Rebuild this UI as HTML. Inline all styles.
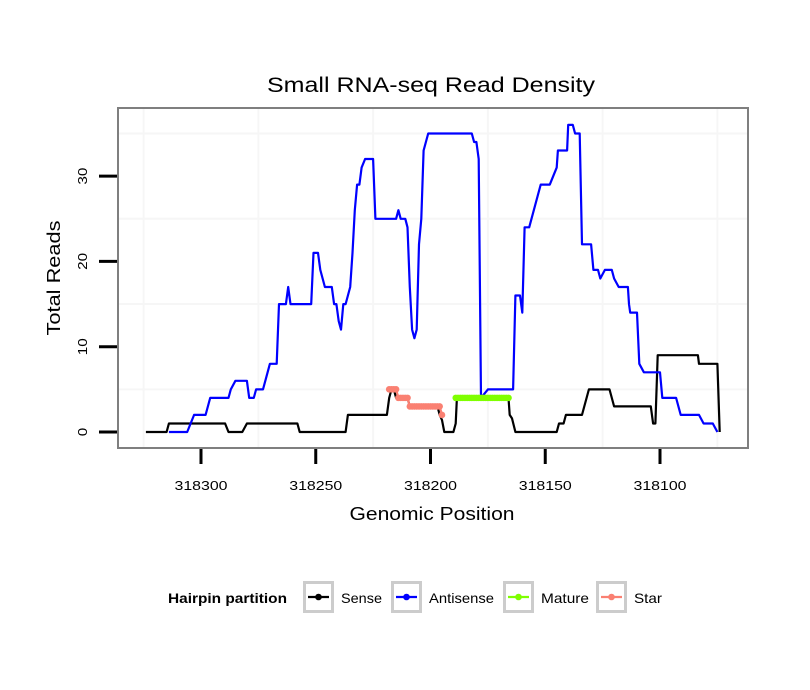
<!DOCTYPE html>
<html><head><meta charset="utf-8"><style>
html,body{margin:0;padding:0;background:#fff}
svg{display:block;font-family:"Liberation Sans",sans-serif}
</style></head><body>
<svg id="chart" width="810" height="690" viewBox="0 0 810 690">
<text x="431" y="92" text-anchor="middle" font-size="21" textLength="328" lengthAdjust="spacingAndGlyphs">Small RNA-seq Read Density</text>
<rect x="118" y="108" width="630" height="340" fill="#fff"/>
<g id="grid"></g>
<g id="series"></g>
<rect x="118" y="108" width="630" height="340" fill="none" stroke="#7f7f7f" stroke-width="2"/>
<g id="axes"></g>
<text x="432" y="520" text-anchor="middle" font-size="18" textLength="165" lengthAdjust="spacingAndGlyphs">Genomic Position</text>
<text transform="translate(60,278) rotate(-90)" text-anchor="middle" font-size="18" textLength="115" lengthAdjust="spacingAndGlyphs">Total Reads</text>
<g>
<text x="168" y="603" font-size="14" font-weight="bold" textLength="119" lengthAdjust="spacingAndGlyphs">Hairpin partition</text>
<g id="legend"></g>
</g>
</svg>
<script>
const xTicks = [318300, 318250, 318200, 318150, 318100];
const xTickLabels = ["318300", "318250", "318200", "318150", "318100"];
const yTicks = [0, 10, 20, 30];
const yTickLabels = ["0", "10", "20", "30"];
const antisensePos = [318314,318306,318303,318298,318297,318296,318288,318287,318285,318280,318279,318277,318276,318273,318270,318267,318266,318263,318262,318261,318252,318251,318249,318248,318246,318243,318242,318241,318240,318239,318238,318237,318235,318234,318233,318232,318231,318230,318228.5,318225,318224,318215,318214,318213,318211,318210,318209,318208,318207,318206,318205,318204,318203,318201,318182,318181,318180,318179,318178,318175,318164,318163,318161,318160,318159,318157,318152,318148,318145,318144.5,318140.5,318140,318138,318137,318135,318134,318130,318129,318127,318126,318124,318121,318120,318118,318114,318113.5,318113,318110,318109,318107,318100,318099,318093,318091,318083,318081,318077,318075];
const antisenseVal = [0,0,2,2,3,4,4,5,6,6,4,4,5,5,8,8,15,15,17,15,15,21,21,19,17,17,15,15,13,12,15,15,17,21,26,29,29,31,32,32,25,25,26,25,25,24,17,12,11,12,22,25,33,35,35,34,34,32,4,5,5,16,16,14,24,24,29,29,31,33,33,36,36,35,35,22,22,19,19,18,19,19,18,17,17,15,14,14,8,7,7,4,4,2,2,1,1,0];
const sensePos = [318324,318315,318314,318289.5,318288,318282,318280,318258,318257,318237,318236,318219,318218,318217,318216,318215,318210,318209,318197,318196,318195,318194,318190,318189,318188.5,318166,318165.5,318164.5,318163,318145,318144,318142,318141,318134,318133,318132,318131,318129,318122,318120,318104,318103,318102,318101,318083.5,318083,318075,318074];
const senseVal = [0,0,1,1,0,0,1,1,0,0,2,2,4,5,5,4,4,3,3,2,1.4,0,0,1,4,4,2,1.6,0,0,1,1,2,2,3,4,5,5,5,3,3,1,1,9,9,8,8,0];
const starPos = [318218,318217,318216,318215,318214,318213,318212,318211,318210,318209,318208,318207,318206,318205,318204,318203,318202,318201,318200,318199,318198,318197,318196,318195];
const starVal = [5,5,5,5,4,4,4,4,4,3,3,3,3,3,3,3,3,3,3,3,3,3,3,2];
const maturePos = [318189,318188,318187,318186,318185,318184,318183,318182,318181,318180,318179,318178,318177,318176,318175,318174,318173,318172,318171,318170,318169,318168,318167,318166];
const matureVal = [4,4,4,4,4,4,4,4,4,4,4,4,4,4,4,4,4,4,4,4,4,4,4,4];
const legendLabels = ["Sense", "Antisense", "Mature", "Star"];
const legendColors = ["#000000", "#0000ff", "#7fff00", "#fa8072"];
const legendTextW = [41, 65, 48, 28];

const NS = "http://www.w3.org/2000/svg";
function xs(v){ return 201 + (318300 - v) * 2.295; }
function ys(v){ return 432 - v * 8.53; }
function mk(tag, attrs, parent){ const e = document.createElementNS(NS, tag); for (const k in attrs) e.setAttribute(k, attrs[k]); parent.appendChild(e); return e; }

const grid = document.getElementById('grid');
[318325,318275,318225,318175,318125,318075].forEach(v => {
  const l = mk('line', {x1: xs(v), x2: xs(v), y1: 109, y2: 447, stroke: '#f6f6f6', 'stroke-width': 2}, grid);
  
  
});
[5,15,25,35].forEach(v => {
  const l = mk('line', {x1: 119, x2: 747, y1: ys(v), y2: ys(v), stroke: '#f6f6f6', 'stroke-width': 2}, grid);
  
  
});

const axes = document.getElementById('axes');
xTicks.forEach((v, i) => {
  const t = mk('line', {x1: xs(v), x2: xs(v), y1: 449, y2: 464, stroke: '#000', 'stroke-width': 3}, axes);
  
  
  const tx = mk('text', {x: xs(v), y: 490, 'text-anchor': 'middle', 'font-size': 13, textLength: 53, lengthAdjust: 'spacingAndGlyphs'}, axes);
  tx.textContent = xTickLabels[i];
  
  
});
yTicks.forEach((v, i) => {
  const t = mk('line', {x1: 99, x2: 117, y1: ys(v), y2: ys(v), stroke: '#000', 'stroke-width': 3}, axes);
  
  
  const tx = mk('text', {transform: 'translate(87,' + ys(v) + ') rotate(-90)', 'text-anchor': 'middle', 'font-size': 13, textLength: yTickLabels[i].length * 8.5, lengthAdjust: 'spacingAndGlyphs'}, axes);
  tx.textContent = yTickLabels[i];
  
  
});

const series = document.getElementById('series');
function path(pos, val){ return pos.map((p, i) => (i ? 'L' : 'M') + xs(p).toFixed(1) + ',' + ys(val[i]).toFixed(1)).join(' '); }
const sl = mk('path', {d: path(sensePos, senseVal), fill: 'none', stroke: '#000', 'stroke-width': 2.2, 'stroke-linejoin': 'round'}, series);


const al = mk('path', {d: path(antisensePos, antisenseVal), fill: 'none', stroke: '#0000ff', 'stroke-width': 2.2, 'stroke-linejoin': 'round'}, series);


function pts(pos, val, color, name){
  const g = mk('g', {}, series);
  
  
  mk('path', {d: path(pos, val), fill: 'none', stroke: color, 'stroke-width': 2.2}, g);
  pos.forEach((p, i) => {
    const c = mk('circle', {cx: xs(p), cy: ys(val[i]), r: 3.3, fill: color}, g);
    
    
  });
}
pts(starPos, starVal, '#fa8072', 'star-series');
pts(maturePos, matureVal, '#7fff00', 'mature-series');

const legend = document.getElementById('legend');
const boxX = [303, 391, 503, 596];
legendLabels.forEach((lab, i) => {
  const g = mk('g', {}, legend);
  
  
  const x = boxX[i];
  mk('rect', {x: x + 1.5, y: 582.5, width: 28, height: 29, fill: '#fff', stroke: '#cccccc', 'stroke-width': 3}, g);
  mk('line', {x1: x + 5, x2: x + 26, y1: 597, y2: 597, stroke: legendColors[i], 'stroke-width': 2.2}, g);
  mk('circle', {cx: x + 15.5, cy: 597, r: 3.3, fill: legendColors[i]}, g);
  const t = mk('text', {x: x + 38, y: 603, 'font-size': 14, textLength: legendTextW[i], lengthAdjust: 'spacingAndGlyphs'}, g);
  t.textContent = lab;
});
</script>
</body></html>
